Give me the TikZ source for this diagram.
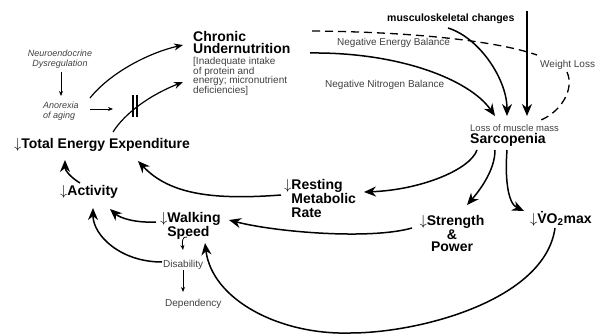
\documentclass[tikz,border=0pt]{standalone}
\usepackage{fontspec}
\setmainfont{Liberation Sans}
\usetikzlibrary{arrows.meta}
\newcommand{\dn}{$\downarrow$}
\newcommand{\Vdot}{V^^^^0307}

\begin{document}
\begin{tikzpicture}[x=1pt, y=-1pt,
	big/.style = {font=\fontsize{14}{12.5}\selectfont\bfseries, inner sep=0pt},
	lbl/.style = {font=\fontsize{10}{10}\selectfont, text=black!75, inner sep=0pt},
	note/.style = {font=\fontsize{9}{10}\selectfont\itshape, text=black!75, inner sep=0pt},
	conn/.style = {line width=1.5pt, -{Stealth[length=12pt, width=10pt]}},
	feed/.style = {line width=1.2pt, -{Stealth[length=9pt, width=7pt]}},
	thinarr/.style = {line width=0.8pt, -{Stealth[length=5pt, width=4pt]}},
	dashline/.style = {line width=1.3pt, dash pattern=on 8pt off 5pt}]
	\useasboundingbox (0,0) rectangle (601,334);
	% left column
	\node (neuro) at (60,50)	[note, anchor=north, align=center]	{Neuroendocrine\\Dysregulation};
	\node (anorexia) at (43,102)	[note, anchor=north west, align=left]	{Anorexia\\of aging};
	\coordinate (block) at (135,106);
	\node (chronic) at (193,31)	[big, anchor=north west, align=left]	{Chronic\\Undernutrition};
	\node (inad) at (193,57)	[lbl, anchor=north west, align=left, font=\fontsize{10}{9.7}\selectfont]	{[Inadequate intake\\of protein and\\energy; micronutrient\\deficiencies]};
	\node (tee) at (14,148)	[big, anchor=base west]	{\dn Total Energy Expenditure};
	\node (activity) at (60,195)	[big, anchor=base west]	{\dn Activity};
	\node (walking) at (160,212)	[big, anchor=north west, align=left]	{\dn Walking\\\phantom{\dn}Speed};
	\node (disab) at (163,267)	[lbl, anchor=base west]	{Disability};
	\node (depend) at (165,306)	[lbl, anchor=base west]	{Dependency};
	% right part
	\coordinate (mtop) at (527,11);
	\node (musc) at (387,22)	[big, anchor=base west, font=\fontsize{10.5}{12}\selectfont\bfseries]	{musculoskeletal changes};
	\node (negE) at (337,46)	[lbl, anchor=base west]	{Negative Energy Balance};
	\node (negN) at (325,88)	[lbl, anchor=base west]	{Negative Nitrogen Balance};
	\node (weight) at (540,68)	[lbl, anchor=base west]	{Weight Loss};
	\node (loss) at (470,131)	[lbl, anchor=base west, font=\fontsize{9.5}{10}\selectfont]	{Loss of muscle mass};
	\node (sarc) at (470,143)	[big, anchor=base west]	{Sarcopenia};
	\node (resting) at (284,179)	[big, anchor=north west, align=left]	{\dn Resting\\\phantom{\dn}Metabolic\\\phantom{\dn}Rate};
	\node (strength) at (452,215)	[big, anchor=north, align=center]	{\dn Strength\\\&\\Power};
	\node (vo2) at (530,223)	[big, anchor=base west]	{\dn\Vdot O\textsubscript{2}max};
	% upper left
	\draw[thinarr] ([shift={(1,22)}]neuro.north) -- ([shift={(18,-6)}]anorexia.north west);
	\draw[thinarr] ([shift={(47,7)}]anorexia.north west) -- ([shift={(-22,3)}]block);
	\draw[line width=1.2pt] ([shift={(-2,-11)}]block) -- ([shift={(-2,11)}]block) ([shift={(2,-11)}]block) -- ([shift={(2,11)}]block);
	\draw[feed] ([shift={(47,-4)}]anorexia.north west) .. controls +(20,-25) and +(-35,8) .. ([shift={(-10,14)}]chronic.north west);
	\draw[feed] ([shift={(99,-16)}]tee.base west) .. controls +(12,-19) and +(-33,13) .. ([shift={(-10,51)}]chronic.north west);
	% into sarcopenia
	\draw[dashline] ([shift={(119,0)}]chronic.north west) .. controls +(108,1) and +(-37,-13) .. ([shift={(-3,-13)}]weight.base west);
	\draw[dashline] ([shift={(27,4)}]weight.base west) .. controls +(8,18) and +(19,-8) .. ([shift={(71,-11)}]loss.base west);
	\draw[conn] ([shift={(117,22)}]chronic.north west) .. controls +(90,-1) and +(-25,-36) .. ([shift={(25,-15)}]loss.base west);
	\draw[conn] ([shift={(61,6)}]musc.base west) .. controls +(32,10) and +(0,-36) .. ([shift={(37,-15)}]loss.base west);
	\draw[conn] (mtop) -- ([shift={(57,-15)}]loss.base west);
	% out of sarcopenia
	\draw[conn] ([shift={(7,7)}]sarc.base west) .. controls +(-7,20) and +(56,-2) .. ([shift={(80,13)}]resting.north west);
	\draw[conn] ([shift={(25,7)}]sarc.base west) .. controls +(0,20) and +(13,-15) .. ([shift={(15,-10)}]strength.north);
	\draw[conn] ([shift={(37,7)}]sarc.base west) .. controls +(-2,25) and +(-17,-8) .. ([shift={(-6,-12)}]vo2.base west);
	% back to the left
	\draw[conn] ([shift={(-3,16)}]resting.north west) .. controls +(-66,5) and +(32,34) .. ([shift={(124,13)}]tee.base west);
	\draw[conn] ([shift={(20,-12)}]activity.base west) .. controls +(-10,-6) and +(0,10) .. ([shift={(51,12)}]tee.base west);
	\draw[conn] ([shift={(-4,10)}]walking.north west) .. controls +(-21,1) and +(10,9) .. ([shift={(50,14)}]activity.base west);
	\draw[conn] ([shift={(-1,-5)}]disab.base west) .. controls +(-42,0) and +(0,27) .. ([shift={(33,13)}]activity.base west);
	\draw[thinarr] ([shift={(27,25)}]walking.north west) .. controls +(-5,-1) and +(-1,-8) .. ([shift={(20,-17)}]disab.base west);
	\draw[thinarr] ([shift={(20,3)}]disab.base west) -- ([shift={(18,-14)}]depend.base west);
	\draw[conn] ([shift={(-40,13)}]strength.north) .. controls +(-42,12) and +(46,12) .. ([shift={(69,8)}]walking.north west);
	\draw[conn] ([shift={(25,5)}]vo2.base west) .. controls +(-10,72) and +(70,0) .. (350,333) .. controls +(-70,2) and +(7,57) .. ([shift={(45,31)}]walking.north west);
\end{tikzpicture}
\end{document}
